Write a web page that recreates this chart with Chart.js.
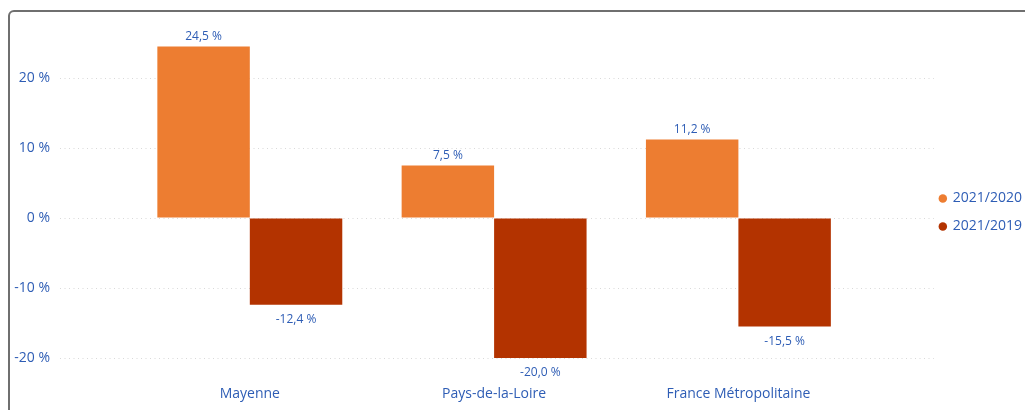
<!DOCTYPE html>
<html>
<head>
<meta charset="utf-8">
<script src="https://cdn.jsdelivr.net/npm/chart.js@4.4.1/dist/chart.umd.min.js"></script>
<style>
  html, body { margin: 0; padding: 0; background: #fff; overflow: hidden; width: 1025px; height: 410px; }
  #frame { position: absolute; left: 8px; top: 10px; width: 1100px; height: 500px;
           border: 2px solid #6f6f6f; border-radius: 6px; }
  #chart { position: absolute; left: 0; top: 0; }
</style>
</head>
<body>
<div id="frame"></div>
<canvas id="chart" width="1040" height="410"></canvas>
<script>
// données
const categories = ['Mayenne', 'Pays-de-la-Loire', 'France Métropolitaine'];
const serie2020 = [24.5, 7.5, 11.2];
const serie2019 = [-12.4, -20.0, -15.5];
const yTicks = [-20, -10, 0, 10, 20];
const seriesLabels = ['2021/2020', '2021/2019'];

const textColor = '#2E5DB5';
const fontFamily = '"Open Sans", "Noto Sans", sans-serif';

function fmt(v) {
    return v.toFixed(1).replace('.', ',') + ' %';
}

// étiquettes de valeurs au-dessus / en dessous des barres
const valueLabels = {
    id: 'valueLabels',
    afterDatasetsDraw(chart) {
        const ctx = chart.ctx;
        ctx.save();
        ctx.font = '12px ' + fontFamily;
        ctx.fillStyle = textColor;
        ctx.textAlign = 'center';
        ctx.textBaseline = 'middle';
        chart.data.datasets.forEach((ds, i) => {
            chart.getDatasetMeta(i).data.forEach((bar, j) => {
                const v = ds.data[j].y;
                const y = v >= 0 ? bar.y - 10 : bar.y + 15;
                ctx.fillText(fmt(v), bar.x, y);
            });
        });
        ctx.restore();
    }
};

// décale un peu la légende (à gauche et vers le haut)
const legendShift = {
    id: 'legendShift',
    afterLayout(chart) {
        chart.legend.left -= 8;
        chart.legend.top -= 14;
        chart.legend.bottom -= 14;
    }
};

new Chart(document.getElementById('chart'), {
    type: 'bar',
    data: {
        datasets: [
            {
                label: seriesLabels[0],
                data: serie2020.map((v, i) => ({ x: i, y: v })),
                backgroundColor: '#ED7D31',
                categoryPercentage: 0.757,
                barPercentage: 1.0
            },
            {
                label: seriesLabels[1],
                data: serie2019.map((v, i) => ({ x: i, y: v })),
                backgroundColor: '#B33300',
                categoryPercentage: 0.757,
                barPercentage: 1.0
            }
        ]
    },
    options: {
        responsive: false,
        animation: false,
        layout: { padding: { top: 43, right: 0, left: 0, bottom: 0 } },
        plugins: {
            tooltip: { enabled: false },
            legend: {
                position: 'right',
                labels: {
                    usePointStyle: true,
                    pointStyle: 'circle',
                    boxWidth: 6,
                    boxHeight: 6,
                    padding: 14,
                    color: textColor,
                    font: { family: fontFamily, size: 14 }
                }
            }
        },
        scales: {
            x: {
                type: 'linear',
                offset: false,
                min: -0.777,
                max: 2.80,
                grid: { display: false, drawTicks: false, offset: false },
                border: { display: false },
                afterBuildTicks(scale) {
                    scale.ticks = categories.map((c, i) => ({ value: i }));
                },
                afterFit(scale) { scale.height = 52; },
                ticks: {
                    padding: 28,
                    color: textColor,
                    font: { family: fontFamily, size: 14 },
                    callback: v => categories[v]
                }
            },
            y: {
                min: -20,
                max: 25,
                grid: {
                    color: '#d9d9d9',
                    drawTicks: false,
                    lineWidth: 1
                },
                border: { display: false, dash: [1, 3.5] },
                afterBuildTicks(scale) {
                    scale.ticks = yTicks.map(v => ({ value: v }));
                },
                afterFit(scale) { scale.width = 60; },
                ticks: {
                    padding: 10,
                    color: textColor,
                    font: { family: fontFamily, size: 14 },
                    callback: v => v + ' %'
                }
            }
        }
    },
    plugins: [valueLabels, legendShift]
});
</script>
</body>
</html>
